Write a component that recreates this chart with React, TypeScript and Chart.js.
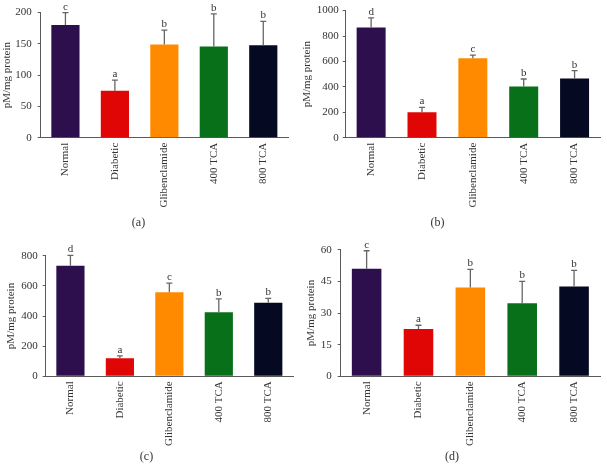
import React, { useEffect, useRef } from "react";
import { Chart, registerables } from "chart.js";

Chart.register(...registerables);

const categories = ["Normal", "Diabetic", "Glibenclamide", "400 TCA", "800 TCA"];
const barColors = ["#2c0f4c", "#e00606", "#ff8a00", "#077019", "#050a22"];

const aMeans = [180, 75, 149, 146, 148];
const aErrors = [20, 17, 23, 52, 38];
const aLetters = ["c", "a", "b", "b", "b"];
const aTicks = { max: 200, step: 50 };

const bMeans = [868, 200, 625, 402, 466];
const bErrors = [75, 38, 25, 60, 62];
const bLetters = ["d", "a", "c", "b", "b"];
const bTicks = { max: 1000, step: 200 };

const cMeans = [733, 120, 558, 425, 488];
const cErrors = [69, 15, 60, 89, 29];
const cLetters = ["d", "a", "c", "b", "b"];
const cTicks = { max: 800, step: 200 };

const dMeans = [51, 22.4, 42.1, 34.6, 42.6];
const dErrors = [8.5, 1.8, 8.6, 10.4, 7.6];
const dLetters = ["c", "a", "b", "b", "b"];
const dTicks = { max: 60, step: 15 };

const yTitle = "pM/mg protein";
const FONT = "'Liberation Serif', 'Times New Roman', serif";

type PanelProps = {
  means: number[];
  errors: number[];
  letters: string[];
  ticks: { max: number; step: number };
  caption: string;
  left: number;
  top: number;
  width: number;
  height: number;
  plotLeft: number;
  plotRight: number;
  plotTop: number;
  plotBottom: number;
  titlePad: number;
  tickPad: number;
  capX: number;
  capY: number;
};

function Panel(p: PanelProps) {
  const ref = useRef<HTMLCanvasElement | null>(null);
  useEffect(() => {
    const canvas = ref.current;
    if (!canvas) return;
    const errorPlugin = {
      id: "errLetters",
      afterDatasetsDraw(chart: any) {
        const ctx = chart.ctx;
        const meta = chart.getDatasetMeta(0);
        const ys = chart.scales.y;
        ctx.save();
        meta.data.forEach((bar: any, i: number) => {
          const x = bar.x;
          const yTop = ys.getPixelForValue(p.means[i]);
          const yErr = ys.getPixelForValue(p.means[i] + p.errors[i]);
          ctx.strokeStyle = "#666";
          ctx.lineWidth = 1.3;
          ctx.beginPath();
          ctx.moveTo(x, yTop);
          ctx.lineTo(x, yErr);
          ctx.moveTo(x - 3, yErr);
          ctx.lineTo(x + 3, yErr);
          ctx.stroke();
          ctx.fillStyle = "#333";
          ctx.font = `11px ${FONT}`;
          ctx.textAlign = "center";
          ctx.textBaseline = "alphabetic";
          ctx.fillText(p.letters[i], x, yErr - 3);
        });
        ctx.restore();
      },
    };
    const chart = new Chart(canvas, {
      type: "bar",
      data: {
        labels: categories,
        datasets: [
          {
            data: p.means,
            backgroundColor: barColors,
            borderWidth: 0,
            categoryPercentage: 1,
            barPercentage: 0.57,
          },
        ],
      },
      options: {
        responsive: false,
        animation: false,
        devicePixelRatio: 1,
        layout: {
          padding: {
            left: 0,
            top: p.plotTop,
            right: p.width - p.plotRight,
            bottom: 0,
          },
        },
        plugins: {
          legend: { display: false },
          tooltip: { enabled: false },
          title: { display: false },
        },
        scales: {
          x: {
            grid: { display: false, drawTicks: false },
            border: { display: true, color: "#5a5a5a", width: 1 },
            ticks: {
              maxRotation: 90,
              minRotation: 90,
              padding: 5,
              color: "#333",
              font: { family: FONT, size: 11 },
            },
            afterFit: (scale: any) => {
              scale.height = p.height - p.plotBottom;
            },
          },
          y: {
            min: 0,
            max: p.ticks.max,
            grid: {
              display: true,
              drawOnChartArea: false,
              drawTicks: true,
              tickLength: 3,
              color: "#5a5a5a",
            },
            border: { display: true, color: "#5a5a5a", width: 1 },
            ticks: {
              stepSize: p.ticks.step,
              padding: p.tickPad,
              color: "#333",
              font: { family: FONT, size: 11 },
              callback: (v: any) => String(v),
            },
            title: {
              display: true,
              text: yTitle,
              color: "#333",
              font: { family: FONT, size: 11 },
              padding: { top: p.titlePad, bottom: 0 },
            },
            afterFit: (scale: any) => {
              scale.width = p.plotLeft;
            },
          },
        },
      },
      plugins: [errorPlugin],
    } as any);
    return () => chart.destroy();
  }, []);
  return (
    <>
      <canvas
        ref={ref}
        width={p.width}
        height={p.height}
        style={{
          position: "absolute",
          left: p.left,
          top: p.top,
          width: p.width,
          height: p.height,
        }}
      />
      <div
        style={{
          position: "absolute",
          left: p.capX,
          top: p.capY,
          transform: "translate(-50%, -50%)",
          fontFamily: FONT,
          fontSize: 12,
          color: "#333",
          whiteSpace: "nowrap",
        }}
      >
        {p.caption}
      </div>
    </>
  );
}

export default function App() {
  return (
    <div
      style={{
        position: "fixed",
        left: 0,
        top: 0,
        width: 607,
        height: 466,
        background: "#fff",
        overflow: "hidden",
      }}
    >
      <Panel
        means={aMeans}
        errors={aErrors}
        letters={aLetters}
        ticks={aTicks}
        caption="(a)"
        left={0}
        top={0}
        width={300}
        height={215}
        plotLeft={40.7}
        plotRight={288}
        plotTop={11.7}
        plotBottom={137.7}
        titlePad={1}
        tickPad={6}
        capX={138.5}
        capY={222}
      />
      <Panel
        means={bMeans}
        errors={bErrors}
        letters={bLetters}
        ticks={bTicks}
        caption="(b)"
        left={300}
        top={0}
        width={307}
        height={215}
        plotLeft={45.7}
        plotRight={300}
        plotTop={8.7}
        plotBottom={137.7}
        titlePad={1}
        tickPad={4}
        capX={437.5}
        capY={222}
      />
      <Panel
        means={cMeans}
        errors={cErrors}
        letters={cLetters}
        ticks={cTicks}
        caption="(c)"
        left={0}
        top={235}
        width={300}
        height={215}
        plotLeft={45.7}
        plotRight={293}
        plotTop={20.7}
        plotBottom={141.3}
        titlePad={5}
        tickPad={5}
        capX={146.5}
        capY={456}
      />
      <Panel
        means={dMeans}
        errors={dErrors}
        letters={dLetters}
        ticks={dTicks}
        caption="(d)"
        left={300}
        top={235}
        width={307}
        height={215}
        plotLeft={40.7}
        plotRight={300}
        plotTop={14.7}
        plotBottom={141.3}
        titlePad={5}
        tickPad={6}
        capX={452}
        capY={456}
      />
    </div>
  );
}
